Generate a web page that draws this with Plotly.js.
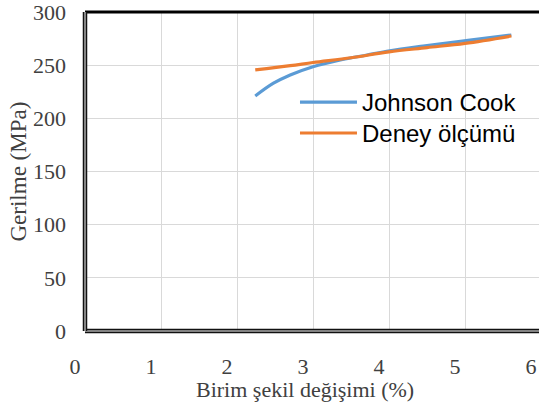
<!DOCTYPE html>
<html><head><meta charset="utf-8">
<script src="https://cdn.plot.ly/plotly-3.0.1.min.js"></script>
<style>html,body{margin:0;padding:0;overflow:hidden;background:#fff;}#c{width:545px;height:408px;}</style>
</head><body><div id="c"></div>
<script>
const jcStrain = [2.24, 2.48, 2.70, 3.00, 3.36, 3.71, 4.01, 4.45, 4.89, 5.33, 5.61];
const jcStress = [221, 233, 240.8, 248.6, 254.9, 259.6, 263.6, 268, 272, 276, 278.4];
const expStrain = [2.24, 2.70, 3.00, 3.50, 4.00, 4.50, 5.00, 5.61];
const expStress = [245.5, 249.5, 252.5, 257, 262.5, 266.5, 270.5, 277.4];
const xTicks = [0, 1, 2, 3, 4, 5, 6];
const yTicks = [0, 50, 100, 150, 200, 250, 300];

const traces = [
  {x: jcStrain, y: jcStress, name: 'Johnson Cook', legend: 'legend', mode: 'lines', line: {color: '#5B9BD5', width: 3.2, shape: 'spline'}},
  {x: expStrain, y: expStress, name: 'Deney ölçümü', legend: 'legend2', mode: 'lines', line: {color: '#ED7D31', width: 3.2, shape: 'spline'}}
];
const serif = 'Liberation Serif, Times New Roman, serif';
const legFont = {family: 'Liberation Sans, Arial, sans-serif', size: 24, color: '#000'};
const layout = {
  width: 545, height: 408,
  margin: {l: 85, r: 4, t: 12, b: 77},
  paper_bgcolor: '#fff', plot_bgcolor: '#fff',
  showlegend: true,
  legend: {x: 0.4605, y: 0.787, xanchor: 'left', yanchor: 'top', bgcolor: 'rgba(0,0,0,0)', font: legFont, itemwidth: 57},
  legend2: {x: 0.4605, y: 0.690, xanchor: 'left', yanchor: 'top', bgcolor: 'rgba(0,0,0,0)', font: legFont, itemwidth: 57},
  xaxis: {range: [0, 6], tickvals: xTicks, ticktext: xTicks.map(String), showgrid: true, gridcolor: '#d9d9d9', gridwidth: 1,
    zeroline: false, showline: false, ticks: '', ticklabelshift: -10, ticklabelstandoff: 20, ticklabeloverflow: 'allow',
    tickfont: {family: serif, size: 22, color: '#404040'}},
  yaxis: {range: [0, 300], tickvals: yTicks, showgrid: true, gridcolor: '#d9d9d9', gridwidth: 1,
    zeroline: false, showline: false, ticks: '', ticklabelstandoff: 18, ticklabeloverflow: 'allow',
    tickfont: {family: serif, size: 22, color: '#404040'}},
  annotations: [
    {text: 'Birim şekil değişimi (%)', xref: 'paper', yref: 'paper', x: (305 - 85) / 456, y: -(389 - 331) / 319,
      xanchor: 'center', yanchor: 'middle', showarrow: false, font: {family: serif, size: 22, color: '#404040'}},
    {text: 'Gerilme (MPa)', xref: 'paper', yref: 'paper', x: -(85 - 18) / 456, y: 0.5, textangle: -90,
      xanchor: 'center', yanchor: 'middle', showarrow: false, font: {family: serif, size: 23, color: '#404040'}}
  ],
  shapes: [
    {type: 'line', xref: 'paper', yref: 'paper', x0: 0, x1: 1, y0: 1, y1: 1, line: {color: '#000', width: 3}},
    {type: 'line', xref: 'paper', yref: 'paper', x0: 0, x1: 1, y0: 0, y1: 0, line: {color: '#111', width: 4.5}},
    {type: 'line', xref: 'paper', yref: 'paper', x0: 0, x1: 1, y0: 0, y1: 0, line: {color: '#aaa', width: 1.5}},
    {type: 'line', xref: 'paper', yref: 'paper', x0: 0, x1: 0, y0: 0, y1: 1, line: {color: '#111', width: 4.5}},
    {type: 'line', xref: 'paper', yref: 'paper', x0: 0, x1: 0, y0: 0, y1: 1, line: {color: '#aaa', width: 1.5}}
  ]
};
Plotly.newPlot('c', traces, layout, {staticPlot: true, displayModeBar: false});
</script></body></html>
